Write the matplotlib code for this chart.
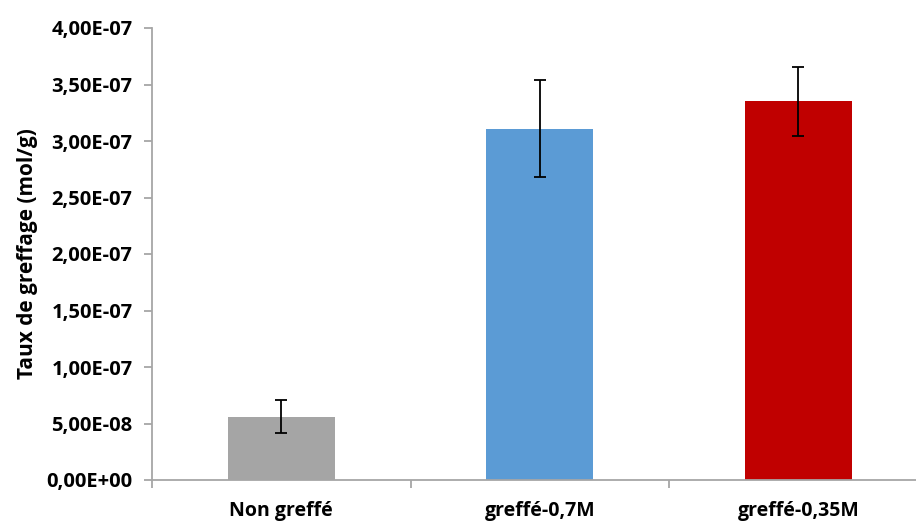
import matplotlib
matplotlib.use("Agg")
import matplotlib.pyplot as plt
from matplotlib.ticker import FuncFormatter

categories = ["Non greffé", "greffé-0,7M", "greffé-0,35M"]
values = [5.6e-8, 3.11e-7, 3.35e-7]
errors = [1.45e-8, 4.3e-8, 3.05e-8]
colors = ["#A5A5A5", "#5B9BD5", "#C00000"]
yticks = [0, 5e-8, 1e-7, 1.5e-7, 2e-7, 2.5e-7, 3e-7, 3.5e-7, 4e-7]

plt.rcParams['font.family'] = ['Open Sans', 'DejaVu Sans']
plt.rcParams['font.weight'] = 'bold'

fig = plt.figure(figsize=(9.16, 5.25), dpi=100)
ax = fig.add_axes([152/916, 45/525, (916-152)/916, (480-28)/525])

x = list(range(len(categories)))
ax.bar(x, values, width=0.414, color=colors, yerr=errors, capsize=4,
       error_kw=dict(ecolor='black', elinewidth=1.3, capthick=1.3))

ax.set_xlim(-0.5, 2.455)
ax.set_ylim(0, 4e-7)
ax.set_yticks(yticks)

def fmt(v, pos):
    s = f"{v:.2E}".replace('.', ',')
    return s
ax.yaxis.set_major_formatter(FuncFormatter(fmt))

ax.set_xticks(x)
ax.set_xticklabels(categories)
ax.set_xticks([-0.5, 0.5, 1.5], minor=True)
ax.tick_params(axis='x', which='major', length=0, pad=15, labelsize=14)
ax.tick_params(axis='x', which='minor', length=6, color='#A6A6A6', width=1.3)
ax.tick_params(axis='y', length=6, color='#A6A6A6', width=1.3, labelsize=14.5, pad=8)

for side in ['top', 'right']:
    ax.spines[side].set_visible(False)
for side in ['left', 'bottom']:
    ax.spines[side].set_color('#A6A6A6')
    ax.spines[side].set_linewidth(1.3)

ax.set_ylabel("Taux de greffage (mol/g)", fontsize=15, fontweight='bold', labelpad=6)

fig.savefig("out.png", dpi=100)
